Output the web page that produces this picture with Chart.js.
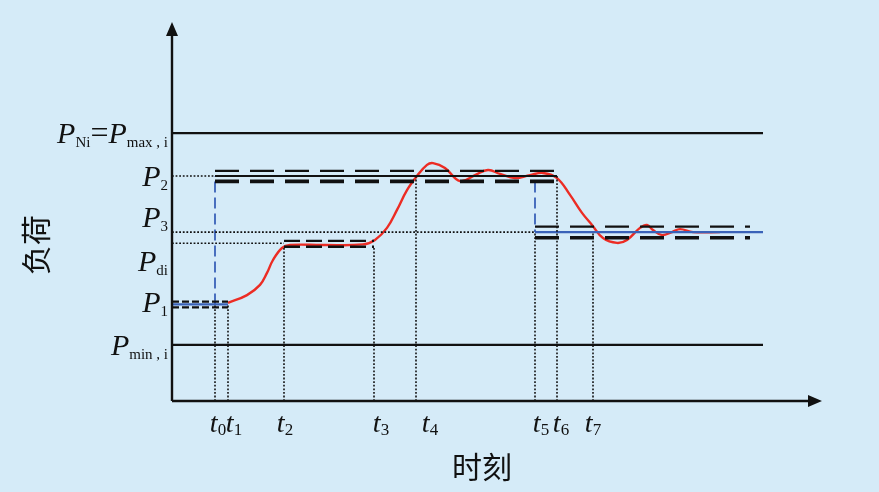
<!DOCTYPE html>
<html>
<head>
<meta charset="utf-8">
<script src="https://cdn.jsdelivr.net/npm/chart.js@4.4.1/dist/chart.umd.min.js"></script>
<style>
  html, body { margin: 0; padding: 0; background: #d5ebf8; }
  #chart { display: block; }
</style>
</head>
<body>
<canvas id="chart" width="879" height="492"></canvas>
<script>
// time axis marks (t0..t7)
const timeLabels = ['0', '1', '2', '3', '4', '5', '6', '7'];
const timeValues = [8.6, 11.2, 22.4, 40.4, 48.8, 72.6, 77.0, 84.2];

// load levels
const levelSubs = ['Ni', '2', '3', 'di', '1', 'min , i'];
const levelValues = [89.3, 75.0, 56.3, 52.6, 32.2, 18.7];
const limitEnd = 118.2;

// dashed tolerance bands: level index, upper, lower, from, to
const bandLevel = [1, 2, 3, 4];
const bandHigh = [76.7, 58.1, 53.4, 33.1];
const bandLow = [73.2, 54.4, 51.4, 31.2];
const bandFrom = [8.6, 72.6, 22.4, 0];
const bandTo = [77.0, 115.6, 40.4, 11.2];

// actual load response
const respTime = [11.2, 15.0, 17.6, 19.0, 20.2, 22.0, 23.6, 30.2, 38.2, 40.6, 43.0, 45.0, 47.0, 49.0,
  51.0, 52.2, 54.6, 57.6, 60.6, 63.2, 65.6, 68.6, 71.6, 74.2, 77.0, 79.6, 82.0, 84.0, 86.2, 89.0,
  91.0, 93.6, 95.0, 96.2, 98.0, 100.0, 101.6, 104.2, 109.6];
const respLoad = [32.7, 35.3, 38.7, 42.7, 47.0, 51.0, 52.0, 52.0, 52.2, 53.7, 57.7, 63.7, 70.3, 75.0,
  78.7, 79.3, 77.7, 73.3, 75.3, 77.0, 75.7, 74.3, 75.3, 76.0, 74.3, 68.7, 62.7, 58.7, 54.3, 52.7,
  53.7, 57.7, 58.7, 57.0, 55.3, 56.3, 57.3, 56.3, 56.3];

const BLACK = '#111';
const BLUE = '#3a62b8';
const RED = '#ec2c24';
const DOT = [1.8, 1.8];

function seg(x0, y0, x1, y1, color, width, dash) {
  return {
    data: [{ x: x0, y: y0 }, { x: x1, y: y1 }],
    showLine: true, pointRadius: 0, borderColor: color,
    borderWidth: width, borderDash: dash || [], tension: 0
  };
}

const datasets = [];
// limit lines
datasets.push(seg(0, levelValues[0], limitEnd, levelValues[0], BLACK, 2.2));
datasets.push(seg(0, levelValues[5], limitEnd, levelValues[5], BLACK, 2.2));
// dotted guides from the y axis
datasets.push(seg(0, levelValues[1], timeValues[0], levelValues[1], BLACK, 1.6, DOT));
datasets.push(seg(0, levelValues[2], timeValues[5], levelValues[2], BLACK, 1.6, DOT));
datasets.push(seg(0, levelValues[3], timeValues[2], levelValues[3], BLACK, 1.6, DOT));
// dotted verticals down to the time axis
const vTop = [levelValues[4], levelValues[4], bandLow[2], bandLow[2], levelValues[1], levelValues[2], levelValues[1], levelValues[2]];
timeValues.forEach((t, i) => datasets.push(seg(t, 0, t, vTop[i], BLACK, 1.6, DOT)));
// bands
bandLevel.forEach((li, i) => {
  const big = li === 1 || li === 2;
  const dash = big ? [24, 11] : (li === 3 ? [16, 6] : [7, 3]);
  datasets.push(seg(bandFrom[i], bandHigh[i], bandTo[i], bandHigh[i], BLACK, 2.2, dash));
  datasets.push(seg(bandFrom[i], bandLow[i], bandTo[i], bandLow[i], BLACK, big ? 3.6 : 2.4, dash));
});
// target schedule
datasets.push(seg(timeValues[0], levelValues[1], timeValues[6], levelValues[1], BLACK, 2.2));
datasets.push(seg(0, levelValues[4], timeValues[1], levelValues[4], BLUE, 2.2));
datasets.push(seg(timeValues[0], levelValues[4], timeValues[0], levelValues[1], BLUE, 1.8, [11, 5]));
datasets.push(seg(timeValues[5], bandLow[0], timeValues[5], levelValues[2], BLUE, 1.8, [11, 5]));
datasets.push(seg(timeValues[5], levelValues[2], limitEnd, levelValues[2], BLUE, 2.2));
// response curve
datasets.push({
  data: respTime.map((t, i) => ({ x: t, y: respLoad[i] })),
  showLine: true, pointRadius: 0, borderColor: RED, borderWidth: 2.4, tension: 0.4
});

const SERIF = '"Liberation Serif", "DejaVu Serif", serif';
const CJK = '"Noto Sans CJK SC", sans-serif';
const labelShift = [0, 0, -15, 18, -2, 0];
const tickShift = [3, 6, 1, 7, 14, 6, 4, 0];

function runs(ctx, parts, xRight, baseY, alignCenter) {
  let w = 0;
  parts.forEach(p => { ctx.font = p.font; w += ctx.measureText(p.text).width; });
  let x = alignCenter ? xRight - w / 2 : xRight - w;
  parts.forEach(p => {
    ctx.font = p.font;
    ctx.fillText(p.text, x, baseY + (p.dy || 0));
    x += ctx.measureText(p.text).width;
  });
}

const decor = {
  id: 'decor',
  beforeDraw(chart) {
    const c = chart.ctx;
    c.save();
    c.fillStyle = '#d5ebf8';
    c.fillRect(0, 0, chart.width, chart.height);
    c.restore();
  },
  afterDraw(chart) {
    const c = chart.ctx;
    const xs = chart.scales.x, ys = chart.scales.y;
    const x0 = xs.getPixelForValue(0), y0 = ys.getPixelForValue(0);
    const xEnd = xs.right, yEnd = ys.top;
    c.save();
    c.strokeStyle = BLACK; c.fillStyle = BLACK; c.lineWidth = 2.4;
    c.beginPath();
    c.moveTo(x0, y0); c.lineTo(x0, yEnd + 8);
    c.moveTo(x0, y0); c.lineTo(xEnd - 8, y0);
    c.stroke();
    c.beginPath();
    c.moveTo(x0, yEnd); c.lineTo(x0 - 6, yEnd + 14); c.lineTo(x0 + 6, yEnd + 14); c.closePath();
    c.moveTo(xEnd, y0); c.lineTo(xEnd - 14, y0 - 6); c.lineTo(xEnd - 14, y0 + 6); c.closePath();
    c.fill();

    const big = 'italic 30px ' + SERIF;
    const sub = '15px ' + SERIF;
    c.textBaseline = 'alphabetic';
    levelSubs.forEach((s, i) => {
      const y = ys.getPixelForValue(levelValues[i]) + 10 + labelShift[i];
      const parts = [{ text: 'P', font: big }, { text: s, font: sub, dy: 4 }];
      if (i === 0) {
        parts.push({ text: '=', font: '32px ' + SERIF, dy: 0 });
        parts.push({ text: 'P', font: big });
        parts.push({ text: 'max , i', font: sub, dy: 4 });
      }
      runs(c, parts, x0 - 4, y, false);
    });
    timeLabels.forEach((s, i) => {
      const x = xs.getPixelForValue(timeValues[i]) + tickShift[i];
      runs(c, [{ text: 't', font: 'italic 28px ' + SERIF }, { text: s, font: '17px ' + SERIF, dy: 3 }], x, 432, true);
    });

    c.font = '30px ' + CJK;
    c.textAlign = 'center';
    c.fillText('时刻', 482, 478);
    c.translate(36, 245);
    c.rotate(-Math.PI / 2);
    c.textBaseline = 'middle';
    c.fillText('负荷', 0, 0);
    c.restore();
  }
};

new Chart(document.getElementById('chart').getContext('2d'), {
  type: 'scatter',
  data: { datasets: datasets },
  options: {
    responsive: false,
    animation: false,
    layout: { padding: { left: 172, right: 57, top: 22, bottom: 91 } },
    plugins: { legend: { display: false }, tooltip: { enabled: false } },
    scales: {
      x: { type: 'linear', min: 0, max: 130, display: false },
      y: { type: 'linear', min: 0, max: 126.33, display: false }
    }
  },
  plugins: [decor]
});
</script>
</body>
</html>
